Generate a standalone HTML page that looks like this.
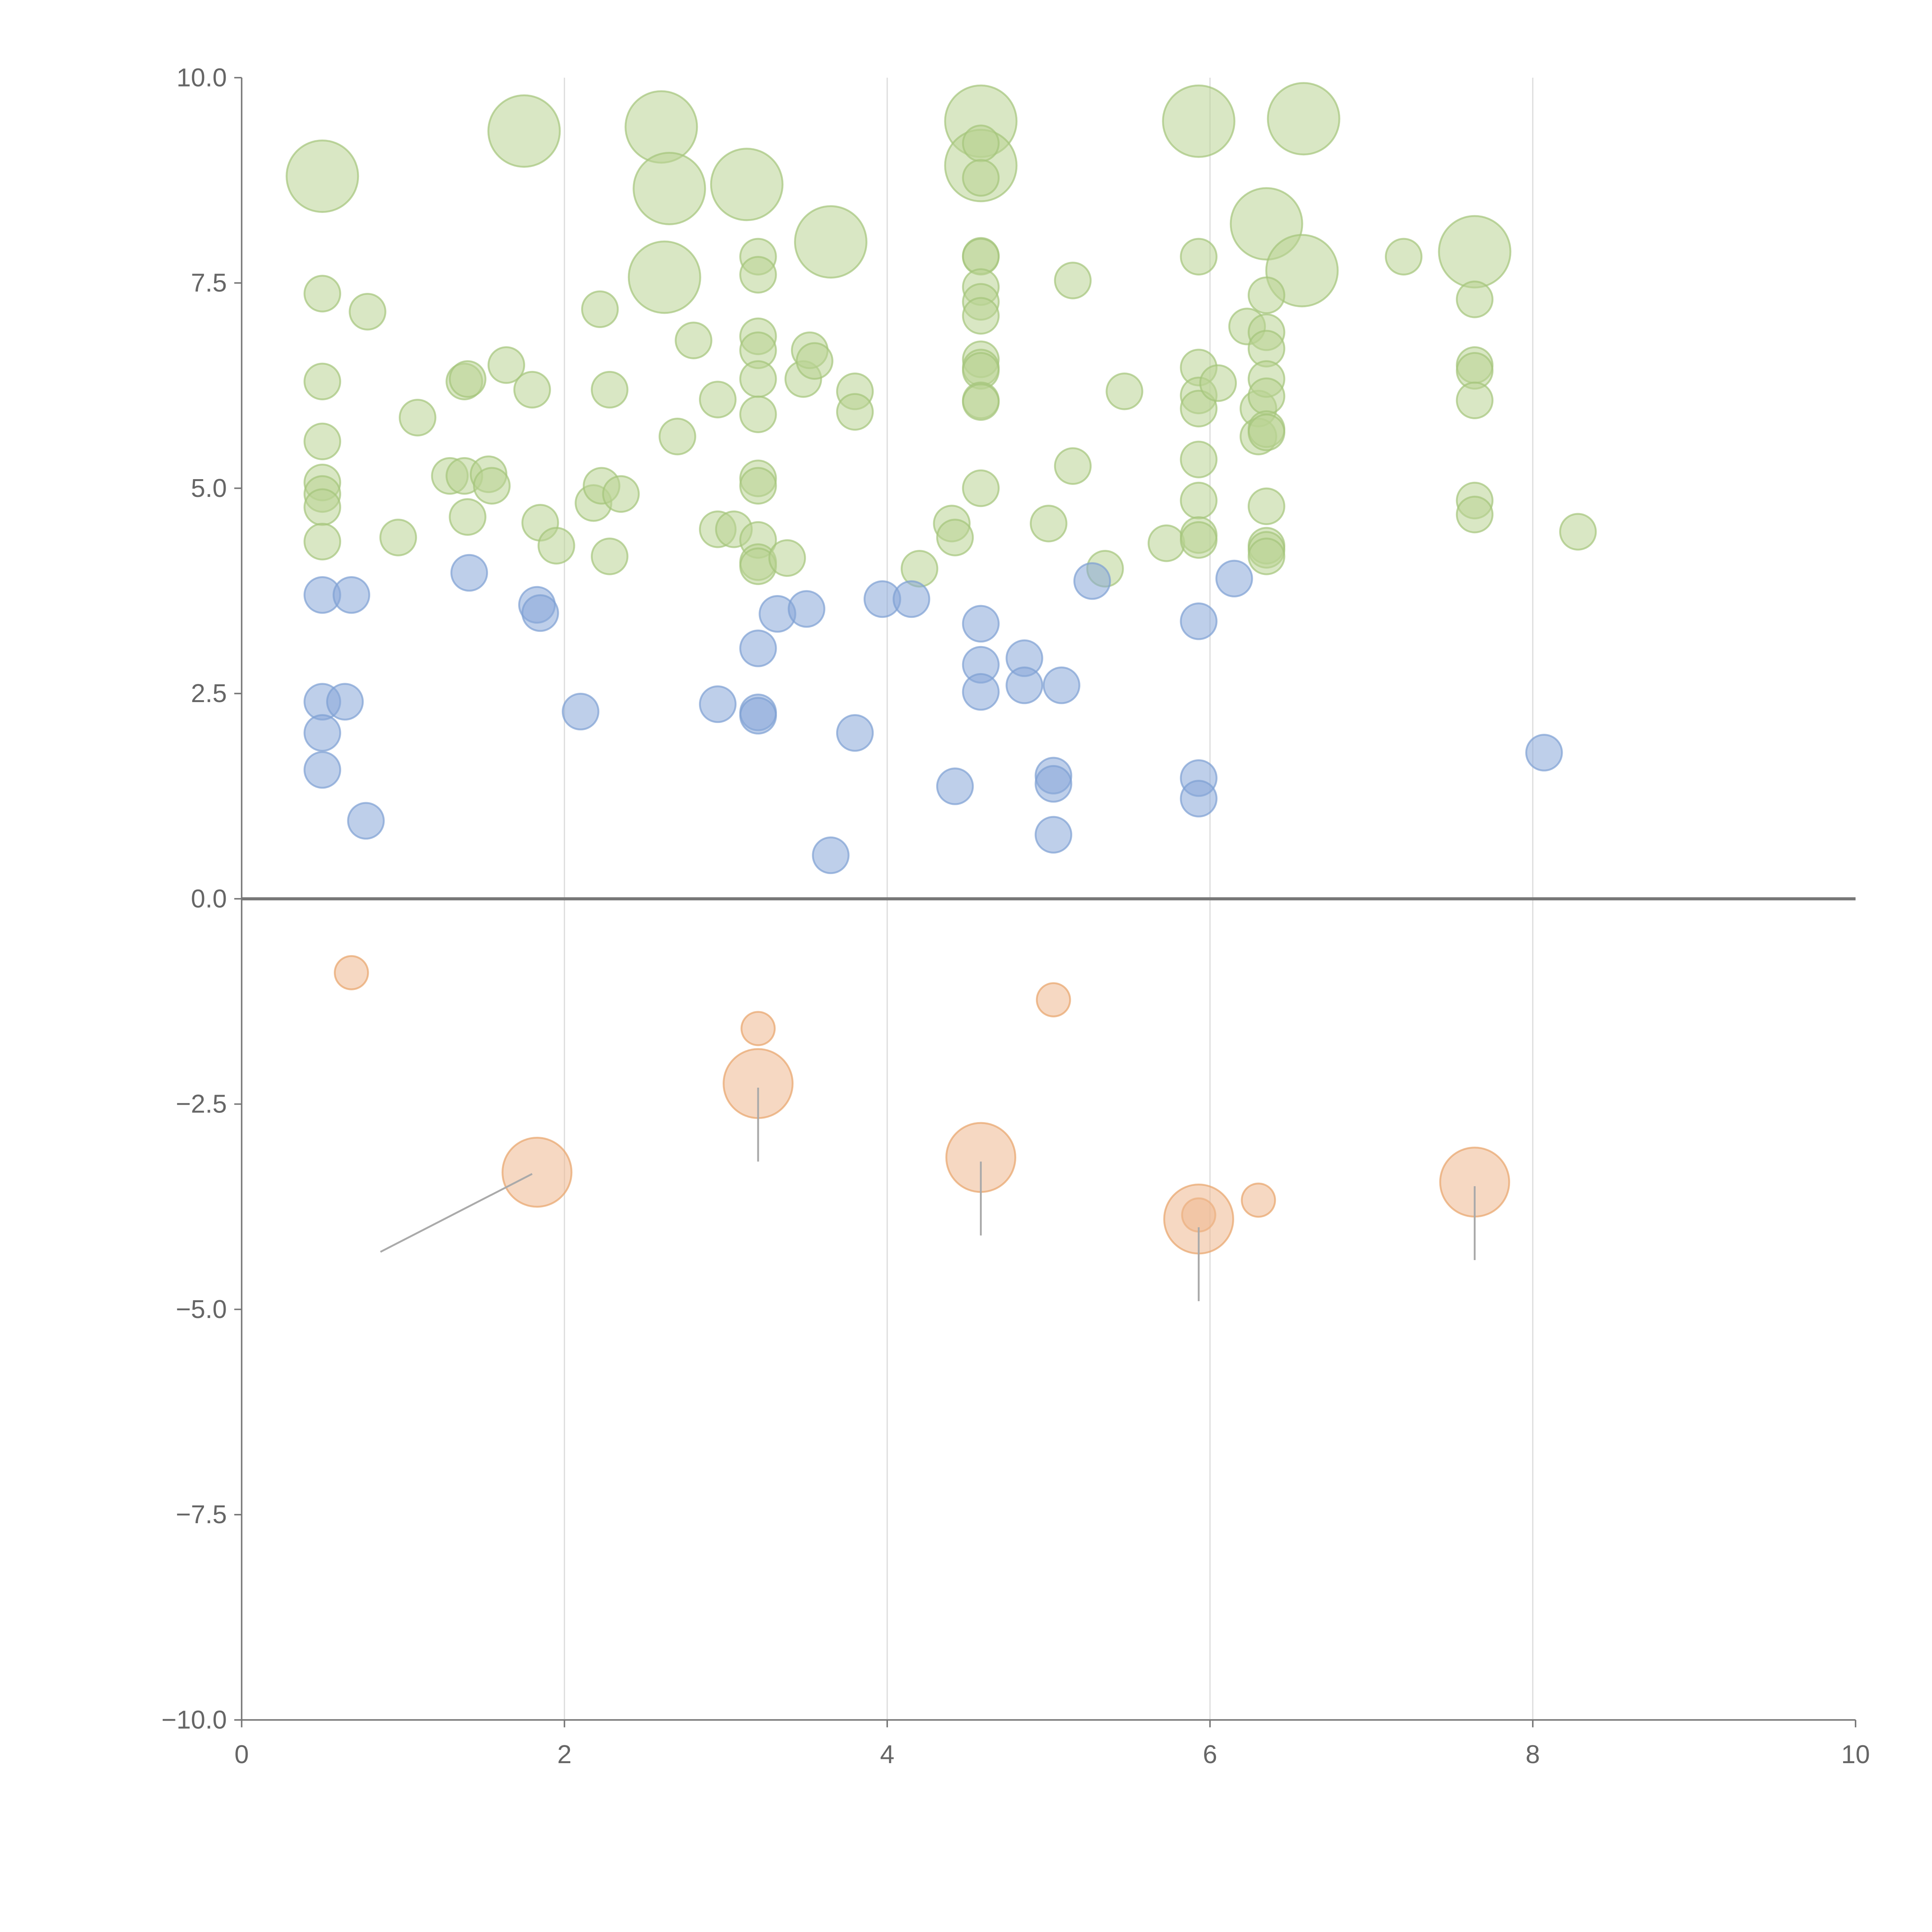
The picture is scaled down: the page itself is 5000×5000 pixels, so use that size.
<!DOCTYPE html>
<html><head><meta charset="utf-8"><style>html,body{margin:0;padding:0;background:#fff}svg{display:block}</style></head>
<body>
<svg id="chart" width="5000" height="5000" viewBox="0 0 1567 1567" xmlns="http://www.w3.org/2000/svg" font-family="Liberation Sans, sans-serif"></svg>
<script>
const xTicks=[0,2,4,6,8,10];
const yTicks=[10,7.5,5,2.5,0,-2.5,-5,-7.5,-10];
const yTickLabels=["10.0","7.5","5.0","2.5","0.0","\u22122.5","\u22125.0","\u22127.5","\u221210.0"];
const greenLargeX=[0.5,1.75,2.6,2.65,3.13,3.65,2.62,4.58,4.58,5.93,6.58,6.35,6.57,7.64];
const greenLargeY=[8.8,9.35,9.4,8.65,8.7,8.0,7.57,9.47,8.93,9.47,9.5,8.22,7.65,7.88];
const greenX=[0.5,0.78,0.5,0.5,0.5,0.5,0.5,0.5,0.97,1.09,1.29,1.38,1.38,1.4,1.4,1.53,1.55,1.64,1.8,1.85,1.95,2.18,2.22,2.23,2.28,2.28,2.35,2.7,2.8,2.95,2.95,3.05,3.2,3.2,3.2,3.2,3.2,3.2,3.2,3.2,3.2,3.2,3.2,3.38,3.48,3.52,3.55,3.8,3.8,4.2,4.4,4.42,4.58,4.58,4.58,4.58,4.58,4.58,4.58,4.58,4.58,4.58,4.58,4.58,4.58,5.0,5.15,5.15,5.35,5.47,5.73,5.93,5.93,5.93,5.93,5.93,5.93,5.93,5.93,6.05,6.23,6.3,6.3,6.35,6.35,6.35,6.35,6.35,6.35,6.35,6.35,6.35,6.35,6.35,7.2,7.64,7.64,7.64,7.64,7.64,7.64,8.28];
const greenY=[7.37,7.15,6.3,5.57,5.07,4.93,4.77,4.35,4.4,5.86,5.15,5.15,6.3,6.33,4.65,5.17,5.03,6.5,6.2,4.58,4.3,4.82,7.18,5.03,4.17,6.2,4.93,5.63,6.8,6.08,4.5,4.5,7.82,7.6,6.85,6.68,6.33,5.9,5.12,5.03,4.37,4.1,4.05,4.15,6.33,6.68,6.55,6.18,5.93,4.02,4.57,4.4,7.83,7.82,7.45,7.27,7.1,6.57,6.47,6.43,6.07,6.05,5.0,9.2,8.78,4.57,7.53,5.27,4.02,6.18,4.33,7.82,6.47,6.13,5.97,5.35,4.85,4.43,4.37,6.28,6.97,5.97,5.63,7.35,6.9,6.7,6.33,6.12,5.72,5.68,4.78,4.3,4.25,4.17,7.82,7.3,6.5,6.43,6.07,4.85,4.68,4.47];
const blueX=[0.5,0.68,1.41,1.83,1.85,0.5,0.64,0.5,0.5,0.77,2.1,2.95,3.2,3.2,3.2,3.32,3.5,3.65,3.8,3.97,4.15,4.42,4.58,4.58,4.58,4.85,4.85,5.03,5.03,5.03,5.08,5.27,5.93,5.93,5.93,6.15,8.07];
const blueY=[3.7,3.7,3.97,3.58,3.48,2.4,2.4,2.02,1.57,0.95,2.28,2.37,3.05,2.27,2.23,3.47,3.53,0.53,2.02,3.65,3.65,1.37,3.35,2.85,2.52,2.93,2.6,1.5,1.4,0.78,2.6,3.87,3.38,1.47,1.22,3.9,1.78];
const orangeX=[0.68,3.2,5.03,6.3,5.93];
const orangeY=[-0.9,-1.58,-1.23,-3.67,-3.85];
const orangeLargeX=[1.83,3.2,4.58,5.93,7.64];
const orangeLargeY=[-3.33,-2.25,-3.15,-3.9,-3.45];
const leaderX1=[1.8,3.2,4.58,5.93,7.64], leaderY1=[-3.35,-2.3,-3.2,-4.0,-3.5];
const leaderX2=[0.86,3.2,4.58,5.93,7.64], leaderY2=[-4.3,-3.2,-4.1,-4.9,-4.4];

const svg=document.getElementById('chart');
const NS='http://www.w3.org/2000/svg';
const X0=196,X1=1505,Y0=1395,Y1=63;
const sx=v=>X0+(v-0)/10*(X1-X0);
const sy=v=>Y0-(v+10)/20*(Y0-Y1);
function mk(t,a){const e=document.createElementNS(NS,t);for(const k in a)e.setAttribute(k,a[k]);svg.appendChild(e);return e;}

[2,4,6,8].forEach(v=>{const l=mk('line',{x1:sx(v),x2:sx(v),y1:Y1,y2:Y0,stroke:'#dddddd','stroke-width':1});

});

function bubbles(xs,ys,r,fill,stroke,name){xs.forEach((x,i)=>{const c=mk('circle',{cx:sx(x),cy:sy(ys[i]),r:r,fill:fill,'fill-opacity':0.55,stroke:stroke,'stroke-opacity':0.7,'stroke-width':1.5});

});}
bubbles(greenLargeX,greenLargeY,29,'#b9d393','#a4c57a','green-bubble-large');
bubbles(greenX,greenY,14.5,'#b9d393','#a4c57a','green-bubble');
bubbles(blueX,blueY,14.5,'#89a8d8','#7d9fd3','blue-bubble');
bubbles(orangeX,orangeY,13.5,'#eeb88f','#e8a46a','orange-bubble');
bubbles(orangeLargeX,orangeLargeY,28,'#eeb88f','#e8a46a','orange-bubble-large');

leaderX1.forEach((x,i)=>{const l=mk('line',{x1:sx(x),y1:sy(leaderY1[i]),x2:sx(leaderX2[i]),y2:sy(leaderY2[i]),stroke:'#aaaaaa','stroke-width':1.5});

});

const zl=mk('line',{x1:X0,x2:X1,y1:sy(0),y2:sy(0),stroke:'#777','stroke-width':2.5});


const ya=mk('line',{x1:X0,x2:X0,y1:Y1,y2:Y0,stroke:'#777','stroke-width':1.2});


const xa=mk('line',{x1:X0,x2:X1,y1:Y0,y2:Y0,stroke:'#777','stroke-width':1.2});



yTicks.forEach((v,i)=>{const t=mk('line',{x1:X0-6,x2:X0,y1:sy(v),y2:sy(v),stroke:'#777','stroke-width':1.2});


const tx=mk('text',{x:X0-12,y:sy(v)+7,'text-anchor':'end','font-size':21,fill:'#666'});tx.textContent=yTickLabels[i];

});
xTicks.forEach(v=>{const t=mk('line',{x1:sx(v),x2:sx(v),y1:Y0,y2:Y0+6,stroke:'#777','stroke-width':1.2});


const tx=mk('text',{x:sx(v),y:Y0+35,'text-anchor':'middle','font-size':21,fill:'#666'});tx.textContent=String(v);

});
</script>
</body></html>
